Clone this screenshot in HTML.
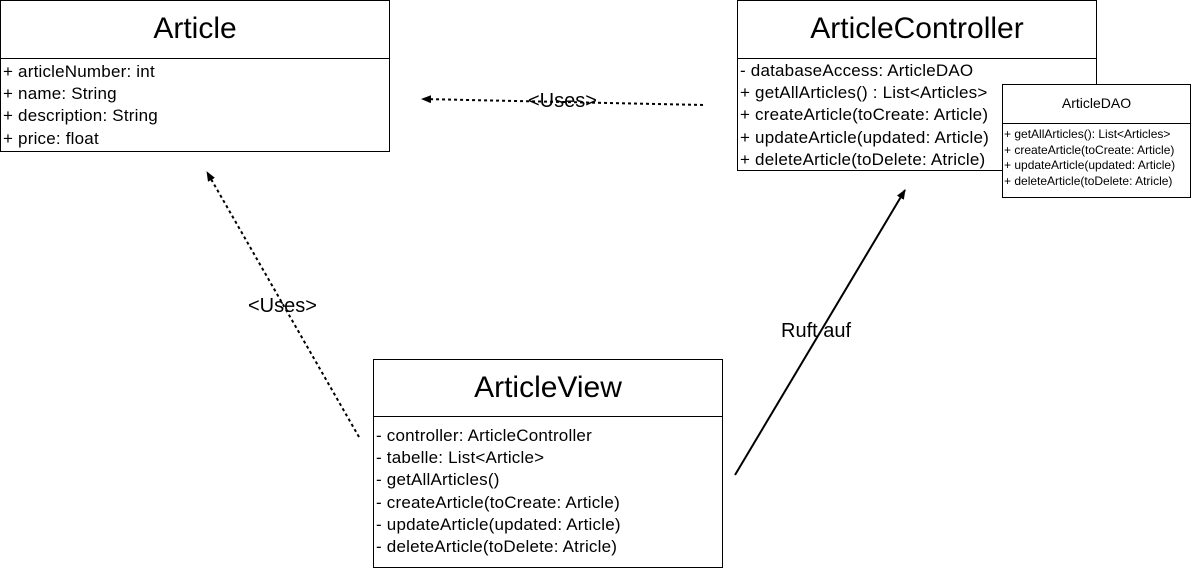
<!DOCTYPE html>
<html><head><meta charset="utf-8"><style>
body{margin:0;width:1192px;height:568px;background:#fff;position:relative;overflow:hidden;font-family:"Liberation Sans",sans-serif;color:#000}
.box{position:absolute;border:1px solid #000;background:#fff;box-sizing:border-box}
.t{position:absolute;left:0;right:0;text-align:center;border-bottom:1px solid #000}
.a{position:absolute;left:2px;font-size:17px;line-height:22.2px;white-space:nowrap;letter-spacing:0.2px}
.s{font-size:12px;line-height:15.5px;left:1px;letter-spacing:0}
.lbl{position:absolute;font-size:20px;white-space:nowrap}
</style></head><body>
<div class="box" style="left:0;top:0;width:390px;height:152px">
 <div class="t" style="top:0;height:57px;line-height:56px;font-size:30px">Article</div>
 <div class="a" style="top:60px">+ articleNumber: int<br>+ name: String<br>+ description: String<br>+ price: float</div>
</div>
<div class="box" style="left:737px;top:0;width:360px;height:171px">
 <div class="t" style="top:0;height:57px;line-height:56px;font-size:30px">ArticleController</div>
 <div class="a" style="top:59px">- databaseAccess: ArticleDAO<br>+ getAllArticles() : List&lt;Articles&gt;<br>+ createArticle(toCreate: Article)<br>+ updateArticle(updated: Article)<br>+ deleteArticle(toDelete: Atricle)</div>
</div>
<div class="box" style="left:1002px;top:84px;width:189px;height:114px">
 <div class="t" style="top:0;height:38px;line-height:36px;font-size:14px">ArticleDAO</div>
 <div class="a s" style="top:42px">+ getAllArticles(): List&lt;Articles&gt;<br>+ createArticle(toCreate: Article)<br>+ updateArticle(updated: Article)<br>+ deleteArticle(toDelete: Atricle)</div>
</div>
<div class="box" style="left:373px;top:359px;width:350px;height:209px">
 <div class="t" style="top:0;height:56px;line-height:56px;font-size:30px">ArticleView</div>
 <div class="a" style="top:65px">- controller: ArticleController<br>- tabelle: List&lt;Article&gt;<br>- getAllArticles()<br>- createArticle(toCreate: Article)<br>- updateArticle(updated: Article)<br>- deleteArticle(toDelete: Atricle)</div>
</div>
<svg width="1192" height="568" style="position:absolute;left:0;top:0">
<defs><marker id="m" markerWidth="10" markerHeight="8" refX="9" refY="4" orient="auto" markerUnits="userSpaceOnUse"><path d="M0,0 L10,4 L0,8 z" fill="#000"/></marker></defs>
<line x1="703" y1="105" x2="422" y2="99" stroke="#000" stroke-width="2" stroke-dasharray="3,3" marker-end="url(#m)"/>
<line x1="359" y1="437" x2="207" y2="172" stroke="#000" stroke-width="2" stroke-dasharray="3,3" marker-end="url(#m)"/>
<line x1="735" y1="475" x2="905" y2="190" stroke="#000" stroke-width="2" marker-end="url(#m)"/>
</svg>
<div class="lbl" style="left:528px;top:90px">&lt;Uses&gt;</div>
<div class="lbl" style="left:248px;top:295px">&lt;Uses&gt;</div>
<div class="lbl" style="left:781px;top:320px">Ruft auf</div>
</body></html>
